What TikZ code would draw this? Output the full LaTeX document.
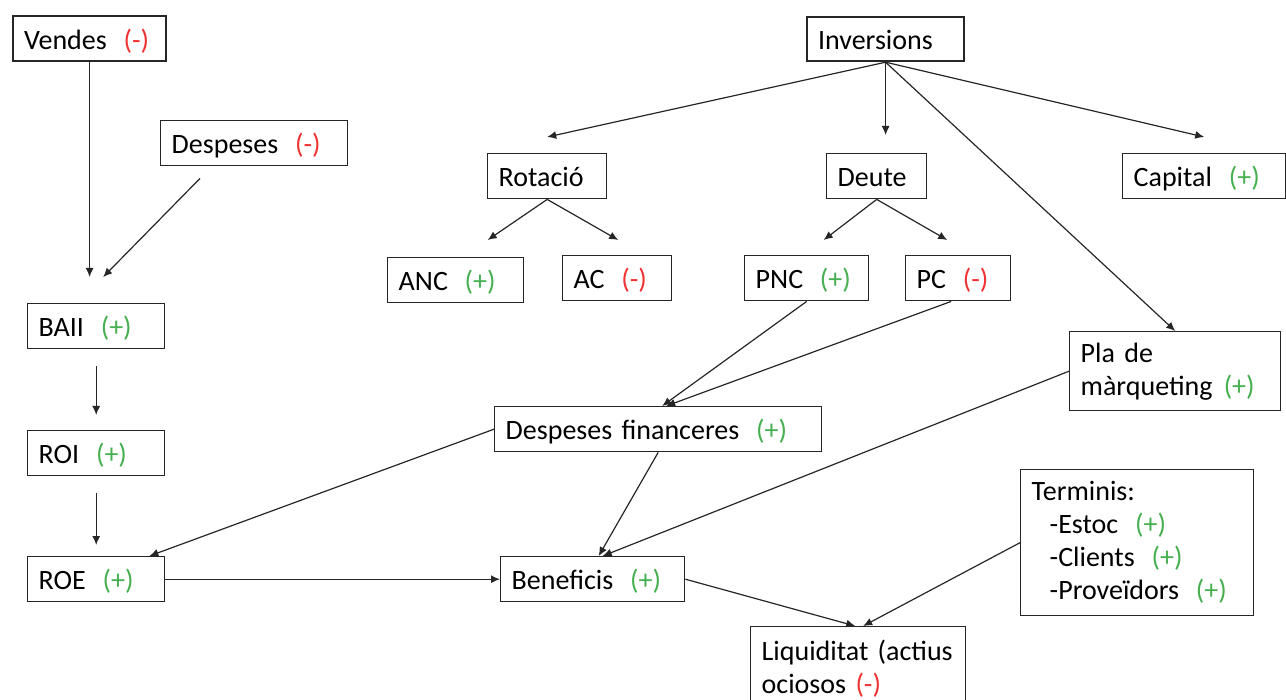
\documentclass[tikz,border=0pt]{standalone}
\usepackage{fontspec}
\setmainfont{Carlito}
\usetikzlibrary{arrows.meta}
\definecolor{verd}{RGB}{70,175,80}
\definecolor{vermell}{RGB}{240,50,50}
\newcommand{\mes}{\hspace{0.6em}\textcolor{verd}{(+)}}
\newcommand{\menys}{\hspace{0.6em}\textcolor{vermell}{(-)}}
\def\unitat{0.5pt}
\begin{document}
\begin{tikzpicture}[x=\unitat,y=-\unitat]
\tikzstyle{caixa}=[draw=black!85,line width=0.7pt,anchor=north west,inner xsep=5.5pt,inner ysep=0pt,align=left,font=\fontsize{14}{16.5}\selectfont]
\tikzstyle{linia}=[caixa,text height=10.5pt,text depth=0pt,minimum height=22.5pt]
\tikzstyle{gruixut}=[line width=1.1pt]
\tikzstyle{fletxa}=[-{Latex[length=4.5pt,width=4pt]},line width=0.6pt,black!85]

\useasboundingbox (0,0) rectangle (1286,700);

\node[linia,gruixut,text width=65.5pt] (vendes) at (12,15) {Vendes\menys};
\node[linia,text width=82.5pt] (despeses) at (160,120) {Despeses\menys};
\node[linia,text width=57.5pt] (baii) at (27,303) {BAII\mes};
\node[linia,text width=57.5pt] (roi) at (27,430) {ROI\mes};
\node[linia,text width=57.5pt] (roe) at (27,556) {ROE\mes};

\node[linia,gruixut,text width=67.5pt,minimum height=22pt] (inversions) at (806,16) {Inversions};
\node[linia,text width=48.5pt] (rotacio) at (487,153) {Rotació};
\node[linia,text width=39pt] (deute) at (826,153) {Deute};
\node[linia,text width=70.5pt] (capital) at (1122,153) {Capital\mes};
\node[linia,text width=57pt] (anc) at (387,257) {ANC\mes};
\node[linia,text width=43.5pt] (ac) at (562,255) {AC\menys};
\node[linia,text width=51pt] (pnc) at (744,255) {PNC\mes};
\node[linia,text width=41.5pt] (pc) at (905,255) {PC\menys};
\node[caixa,text width=94.5pt,minimum height=39.5pt] (pla) at (1069,331) {Pla de\\màrqueting\hspace{0.4em}\textcolor{verd}{(+)}};
\node[linia,text width=152.5pt] (desfin) at (494,406) {Despeses financeres\mes};
\node[linia,text width=81pt] (benef) at (500,556) {Beneficis\mes};
\node[caixa,text width=105.5pt,minimum height=73pt] (terminis) at (1020,469) {Terminis:\\\hspace*{9pt}-Estoc\mes\\\hspace*{9pt}-Clients\mes\\\hspace*{9pt}-Proveïdors\mes};
\node[caixa,text width=96.5pt,minimum height=42pt] (liquid) at (750,626) {\mbox{Liquiditat (actius}\\ociosos \textcolor{vermell}{(-)}};

\draw[fletxa,shorten >=13pt] (vendes.south) -- (vendes.south |- baii.north);
\draw[fletxa] ([shift={(40,12)}]despeses.south west) -- ([shift={(7,-26)}]baii.north);
\draw[fletxa,shorten <=8.5pt,shorten >=7.5pt] (baii.south) -- (roi.north);
\draw[fletxa,shorten <=8.5pt,shorten >=5.5pt] (roi.south) -- (roe.north);

\draw[fletxa] (inversions.south) -- ([shift={(0,-16)}]rotacio.north);
\draw[fletxa,shorten >=9pt] (inversions.south) -- (inversions.south |- deute.north);
\draw[fletxa] (inversions.south) -- ([shift={(0,-16)}]capital.north);
\draw[fletxa] (inversions.south) -- (pla.north);

\draw[fletxa] (rotacio.south) -- ([shift={(32,-17)}]anc.north);
\draw[fletxa] (rotacio.south) -- ([shift={(1,-15)}]ac.north);
\draw[fletxa] (deute.south) -- ([shift={(17,-15)}]pnc.north);
\draw[fletxa] (deute.south) -- ([shift={(-11,-15)}]pc.north);

\draw[fletxa] (pnc.south) -- ([shift={(4,0)}]desfin.north);
\draw[fletxa] ([shift={(-7,0)}]pc.south) -- ([shift={(8,0)}]desfin.north);
\draw[fletxa] (desfin.west) -- ([shift={(-16,0)}]roe.north east);
\draw[fletxa] (desfin.south) -- ([shift={(6,0)}]benef.north);
\draw[fletxa] (pla.west) -- ([shift={(10,0)}]benef.north);
\draw[fletxa] (roe.east) -- (benef.west);
\draw[fletxa] (benef.east) -- ([shift={(-3,0)}]liquid.north);
\draw[fletxa] (terminis.west) -- ([shift={(5,0)}]liquid.north);

\end{tikzpicture}
\end{document}
